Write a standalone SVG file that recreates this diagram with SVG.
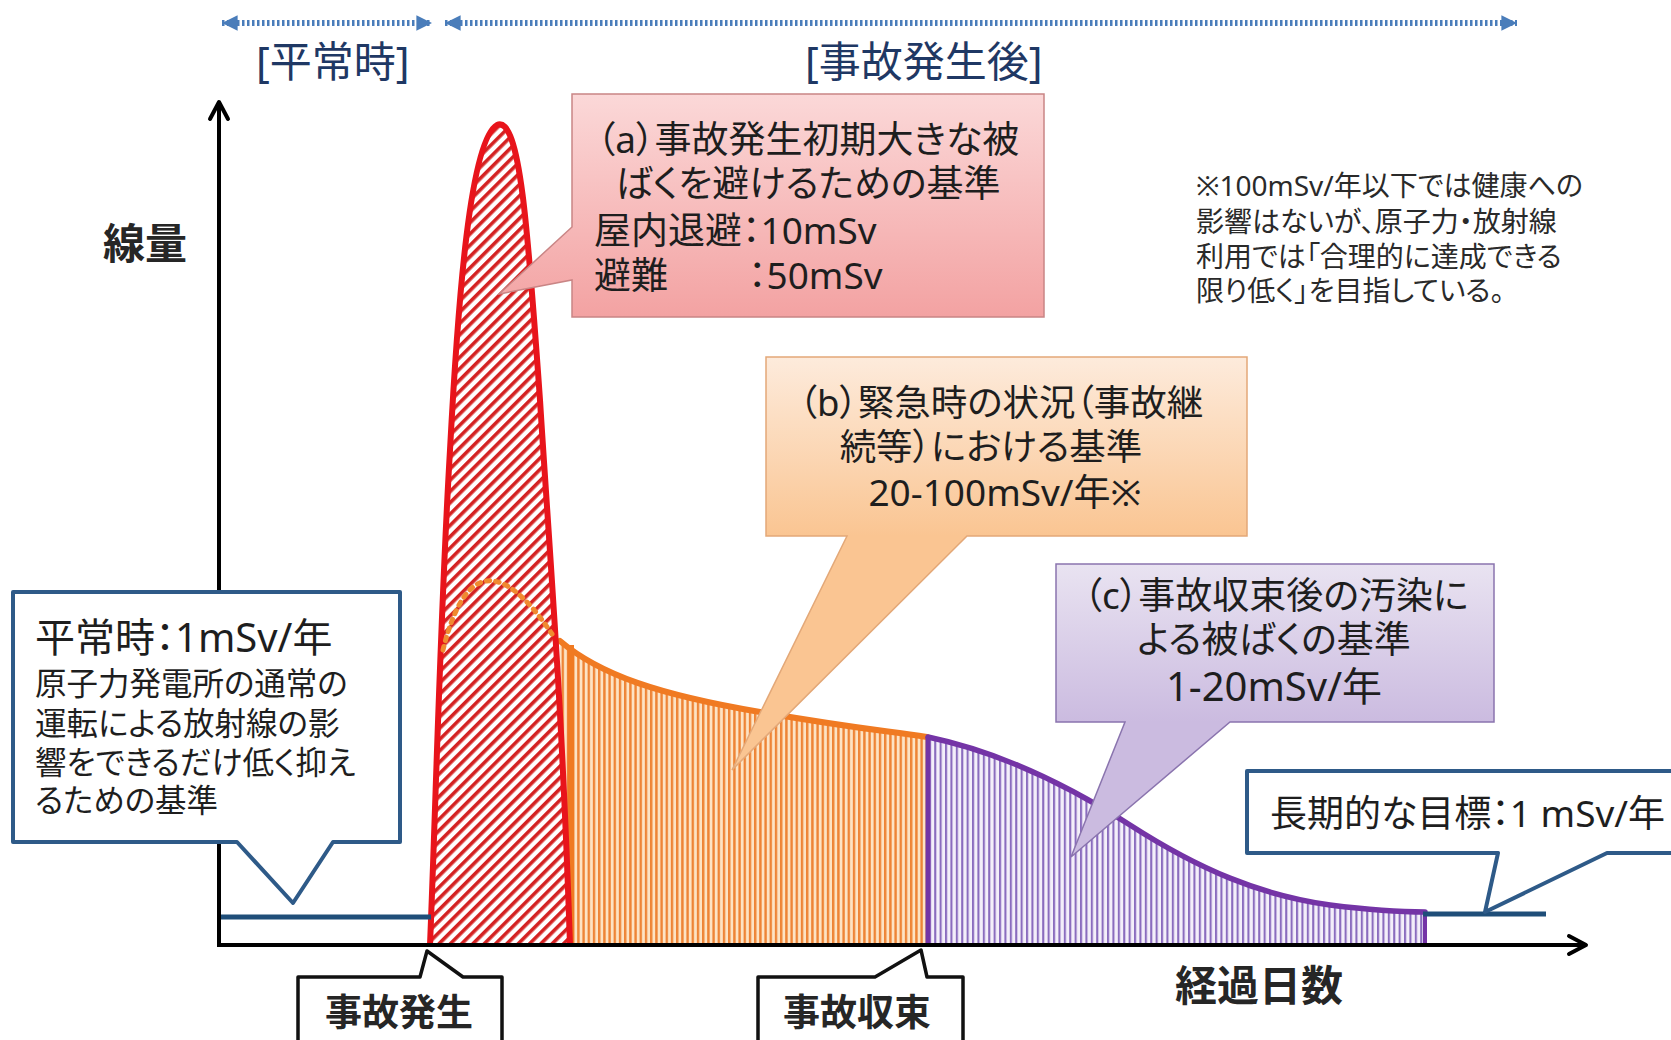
<svg xmlns="http://www.w3.org/2000/svg" width="1671" height="1040" viewBox="0 0 1671 1040">
<defs>
<style>
text{font-family:'Noto Sans','Noto Sans CJK JP',sans-serif;font-feature-settings:"palt";fill:#1e1e1e}
.bold{font-weight:700;fill:#262626}
.period{fill:#1F3864;font-size:42px}
.note{font-size:28px;fill:#2a2a2a}
.axis{stroke:#000;stroke-width:4;fill:none}
.dots{stroke:#4A7DBA;stroke-width:6;stroke-dasharray:2.5 2.5;fill:none}
.blue{stroke:#1F4E79;stroke-width:5;fill:none}
.bluebox{fill:#fff;stroke:#2E5A88;stroke-width:4;stroke-linejoin:round}
.blackbox{fill:#fff;stroke:#111;stroke-width:3.5;stroke-linejoin:round}
</style>
<pattern id="hatchRed" width="8" height="8" patternUnits="userSpaceOnUse" patternTransform="rotate(45)">
<rect width="8" height="8" fill="#fff"/><rect width="3.6" height="8" fill="#D42222"/>
</pattern>
<pattern id="hatchOrange" width="5.2" height="10" patternUnits="userSpaceOnUse">
<rect width="5.2" height="10" fill="#FDE3C4"/><rect width="2.4" height="10" fill="#EE8436"/>
</pattern>
<pattern id="hatchPurple" width="5.4" height="10" patternUnits="userSpaceOnUse">
<rect width="5.4" height="10" fill="#F4EFFA"/><rect width="2.1" height="10" fill="#8A6CBE"/>
</pattern>
<linearGradient id="gA" gradientUnits="userSpaceOnUse" x1="0" y1="94" x2="0" y2="317">
<stop offset="0" stop-color="#FBD8D8"/><stop offset="1" stop-color="#F3A2A2"/>
</linearGradient>
<linearGradient id="gB" gradientUnits="userSpaceOnUse" x1="0" y1="357" x2="0" y2="536">
<stop offset="0" stop-color="#FDEBDC"/><stop offset="1" stop-color="#FAC592"/>
</linearGradient>
<linearGradient id="gC" gradientUnits="userSpaceOnUse" x1="0" y1="564" x2="0" y2="722">
<stop offset="0" stop-color="#E9E3F1"/><stop offset="1" stop-color="#CBBBE0"/>
</linearGradient>
<marker id="tri" viewBox="0 0 10 10" refX="10" refY="5" markerWidth="2.6" markerHeight="2.6" orient="auto-start-reverse">
<path d="M0,0 L10,5 L0,10 Z" fill="#4A7DBA"/>
</marker>
<marker id="chev" viewBox="0 0 24 24" refX="21" refY="12" markerWidth="24" markerHeight="24" markerUnits="userSpaceOnUse" orient="auto">
<path d="M4 3 L21 12 L4 21" fill="none" stroke="#000" stroke-width="4" stroke-linecap="round" stroke-linejoin="round"/>
</marker>
</defs>
<rect width="1671" height="1040" fill="#fff"/>

<g id="regions">
<g id="region-b">
<path d="M560 641 C600 675 660 695 760 712 S880 730 927 737 L927 945 L560 945 Z" fill="url(#hatchOrange)"/>
<path d="M560 641 C600 675 660 695 760 712 S880 730 927 737" fill="none" stroke="#F07A22" stroke-width="6" stroke-linecap="round"/>
<line x1="571" y1="645" x2="571" y2="945" stroke="#F07A22" stroke-width="6"/>
</g>
<g id="region-c">
<path d="M928 737 C990 750 1060 780 1130 825 S1260 895 1330 905 C1370 910 1400 912 1425 912 L1425 945 L928 945 Z" fill="url(#hatchPurple)"/>
<path d="M928 737 C990 750 1060 780 1130 825 S1260 895 1330 905 C1370 910 1400 912 1425 912" fill="none" stroke="#7434A6" stroke-width="5.5" stroke-linecap="round"/>
<line x1="928" y1="737" x2="928" y2="945" stroke="#7434A6" stroke-width="5"/>
<line x1="1425" y1="911" x2="1425" y2="945" stroke="#7434A6" stroke-width="4"/>
</g>
<g id="region-a">
<path d="M430 945 C436 800 440 620 450 450 C458 300 470 140 497 125 C520 115 528 230 540 400 C550 560 562 700 570 945 Z" fill="url(#hatchRed)"/>
<path d="M430 945 C436 800 440 620 450 450 C458 300 470 140 497 125 C520 115 528 230 540 400 C550 560 562 700 570 945" fill="none" stroke="#E8141B" stroke-width="6" stroke-linejoin="round"/>
<path d="M443 650 Q475 520 552 634" fill="none" stroke="#F08A30" stroke-width="5" stroke-dasharray="3.5 6" stroke-linecap="round"/>
</g>
</g>

<g id="connectors">
<line class="dots" x1="222" y1="23" x2="432" y2="23" marker-start="url(#tri)" marker-end="url(#tri)"/>
<line class="dots" x1="445" y1="23" x2="1517" y2="23" marker-start="url(#tri)" marker-end="url(#tri)"/>
<line class="blue" x1="219" y1="917" x2="431" y2="917"/>
<line class="blue" x1="1423" y1="914" x2="1546" y2="914"/>
<line class="axis" x1="219" y1="947" x2="219" y2="102" marker-end="url(#chev)"/>
<line class="axis" x1="217" y1="945" x2="1586" y2="945" marker-end="url(#chev)"/>
</g>

<g id="label-periods">
<text class="period" x="256" y="77">[平常時]</text>
<text class="period" x="805" y="77">[事故発生後]</text>
</g>
<g id="label-axes">
<text class="bold" x="103" y="259" font-size="42">線量</text>
<text class="bold" x="1175" y="1001" font-size="42">経過日数</text>
</g>

<g id="note">
<text class="note" x="1196" y="196">※100mSv/年以下では健康への</text>
<text class="note" x="1196" y="232">影響はないが、原子力・放射線</text>
<text class="note" x="1196" y="267">利用では「合理的に達成できる</text>
<text class="note" x="1196" y="301">限り低く」を目指している。</text>
</g>

<g id="callout-a">
<path d="M572 94 H1044 V317 H572 V280 L499 294 L572 227 Z" fill="url(#gA)" stroke="#C98585" stroke-width="1.5"/>
<text x="808" y="153" text-anchor="middle" font-size="37">（a）事故発生初期大きな被</text>
<text x="808" y="197" text-anchor="middle" font-size="37">ばくを避けるための基準</text>
<text x="594" y="244" font-size="37">屋内退避：10mSv</text>
<text y="289" font-size="37"><tspan x="594">避難</tspan><tspan x="748">：50mSv</tspan></text>
</g>

<g id="callout-b">
<path d="M766 357 H1247 V536 H967 L732 770 L847 536 H766 Z" fill="url(#gB)" stroke="#E3A878" stroke-width="1.5"/>
<text x="1001" y="416" text-anchor="middle" font-size="36.5">（b）緊急時の状況（事故継</text>
<text x="991" y="460" text-anchor="middle" font-size="36.5">続等）における基準</text>
<text x="1005" y="506" text-anchor="middle" font-size="37">20-100mSv/年※</text>
</g>

<g id="callout-c">
<path d="M1056 564 H1494 V722 H1230 L1071 857 L1125 722 H1056 Z" fill="url(#gC)" stroke="#8A74AE" stroke-width="1.5"/>
<text x="1276" y="609" text-anchor="middle" font-size="37">（c）事故収束後の汚染に</text>
<text x="1274" y="653" text-anchor="middle" font-size="37">よる被ばくの基準</text>
<text x="1274" y="701" text-anchor="middle" font-size="40">1-20mSv/年</text>
</g>

<g id="callout-normal">
<path class="bluebox" d="M13 592 H400 V842 H333 L293 903 L237 842 H13 Z"/>
<text x="35" y="652" font-size="40">平常時：1mSv/年</text>
<text x="35" y="695" font-size="31.5">原子力発電所の通常の</text>
<text x="35" y="735" font-size="31.5">運転による放射線の影</text>
<text x="35" y="774" font-size="31.5">響をできるだけ低く抑え</text>
<text x="35" y="812" font-size="31.5">るための基準</text>
</g>

<g id="callout-longterm">
<path class="bluebox" d="M1247 771 H1690 V853 H1607 L1485 912 L1498 853 H1247 Z"/>
<text x="1270" y="827" font-size="37">長期的な目標：1 mSv/年</text>
</g>

<g id="tag-start">
<path class="blackbox" d="M298 1050 V977 H420 L427 951 L463 977 H502 V1050"/>
<text class="bold" x="325" y="1026" font-size="37">事故発生</text>
</g>
<g id="tag-end">
<path class="blackbox" d="M758 1050 V977 H875 L921 950 L927 977 H963 V1050"/>
<text class="bold" x="783" y="1026" font-size="37">事故収束</text>
</g>
</svg>
